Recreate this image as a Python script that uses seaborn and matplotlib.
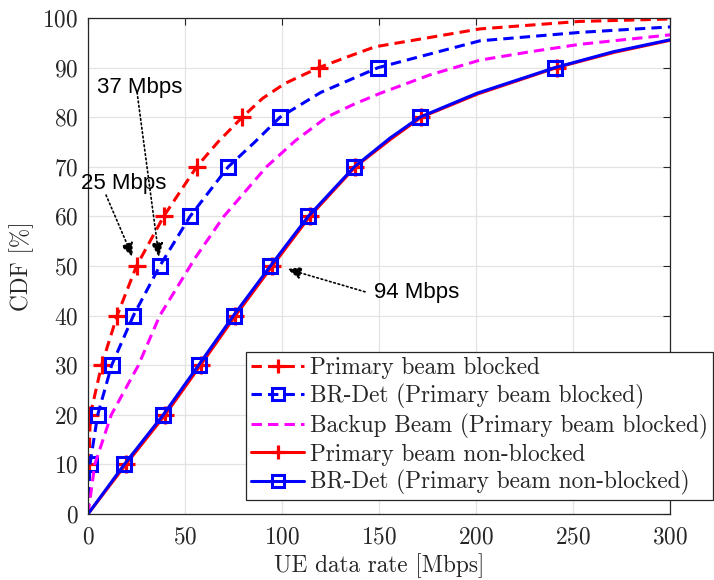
import numpy as np
import pandas as pd
import matplotlib
matplotlib.use("Agg")
import matplotlib.pyplot as plt
import seaborn as sns

# CDF levels [%] and UE data rates [Mbps] for each scenario
cdf_pb_blocked = [0, 10, 20, 30, 40, 50, 60, 70, 75, 80, 83.8, 86.8, 90, 92.2, 94.2, 97.8, 99.3, 99.8]
rate_pb_blocked = [0, 0.5, 1.2, 7, 15, 25, 39, 56, 67, 79.5, 90, 101.5, 119, 134, 148, 202, 253, 300]

cdf_brdet_blocked = [0, 10, 20, 30, 40, 50, 60, 70, 75, 80, 85, 90, 95.4, 97.1, 98.2]
rate_brdet_blocked = [0, 1, 5, 12.2, 23.4, 37, 52.6, 72.3, 86, 99, 120, 149.6, 202, 253.6, 300]

cdf_backup = [0, 10, 20, 30, 40, 51.6, 60, 70, 75.3, 80, 82.6, 84.8, 88.5, 91.5, 93.2, 94.7, 96.6]
rate_backup = [0, 3.5, 12, 26, 37, 55.2, 70, 92, 107, 123, 137, 150.5, 176, 202, 228, 253.6, 300]

cdf_pb_nonblocked = [0, 10, 20, 30, 40, 50, 60, 70, 75.7, 80, 84.7, 90, 93.1, 95.5]
rate_pb_nonblocked = [0, 19.5, 39.8, 58, 76, 95, 114.3, 137.8, 156.5, 171.8, 201, 241.5, 271.5, 300]

cdf_brdet_nonblocked = [0, 10, 20, 30, 40, 50, 60, 70, 75.8, 80, 84.8, 90, 93.2, 95.6]
rate_brdet_nonblocked = [0, 18.7, 38.8, 57, 75, 94, 113.5, 137.3, 155.7, 171, 200.3, 240.7, 270.8, 300]

labels = [
    "Primary beam blocked",
    "BR-Det (Primary beam blocked)",
    "Backup Beam (Primary beam blocked)",
    "Primary beam non-blocked",
    "BR-Det (Primary beam non-blocked)",
]
x_ticks = [0, 50, 100, 150, 200, 250, 300]
y_ticks = [0, 10, 20, 30, 40, 50, 60, 70, 80, 90, 100]

DASH = (0, (3.4, 2.0))
series = [
    (rate_pb_blocked, cdf_pb_blocked, "#ff0000", DASH, "+"),
    (rate_brdet_blocked, cdf_brdet_blocked, "#0000ff", DASH, "s"),
    (rate_backup, cdf_backup, "#ff00ff", DASH, None),
    (rate_pb_nonblocked, cdf_pb_nonblocked, "#ff0000", "-", "+"),
    (rate_brdet_nonblocked, cdf_brdet_nonblocked, "#0000ff", "-", "s"),
]

sns.set_theme(style="whitegrid")
plt.rcParams["font.family"] = ["cmr10", "DejaVu Serif"]
plt.rcParams["axes.formatter.use_mathtext"] = True
plt.rcParams["mathtext.fontset"] = "cm"

fig = plt.figure(figsize=(7.14, 5.80), dpi=100)
ax = fig.add_axes([88 / 714, 66 / 580, (670 - 88) / 714, (514 - 18) / 580])

for (rate, cdf, color, ls, marker), label in zip(series, labels):
    df = pd.DataFrame({"rate": rate, "cdf": cdf})
    marks = [i for i, c in enumerate(cdf) if c in (10, 20, 30, 40, 50, 60, 70, 80, 90)]
    kw = dict(color=color, linestyle=ls, linewidth=2.2, label=label)
    if marker == "+":
        kw.update(marker="+", markersize=13, markeredgewidth=2.3,
                  markeredgecolor=color, markevery=marks)
    elif marker == "s":
        kw.update(marker="s", markersize=10, markeredgewidth=2.2,
                  markerfacecolor="none", markeredgecolor=color, markevery=marks)
    sns.lineplot(data=df, x="rate", y="cdf", ax=ax, sort=False, estimator=None, **kw)

ax.set_xlim(0, 300)
ax.set_ylim(0, 100)
ax.set_xticks(x_ticks)
ax.set_yticks(y_ticks)
ax.set_xlabel("UE data rate [Mbps]", fontsize=16.8, labelpad=3)
ax.set_ylabel("CDF [%]", fontsize=16.8, labelpad=6)
ax.tick_params(axis="both", which="both", direction="in", length=5, width=0.8,
               labelsize=16.8, top=True, right=True, colors="#262626",
               labelcolor="#262626")
ax.tick_params(axis="x", pad=9)
ax.tick_params(axis="y", pad=7)
ax.grid(True, color="#e3e3e3", linewidth=0.9)
for sp in ax.spines.values():
    sp.set_color("#262626")
    sp.set_linewidth(0.9)
ax.set_facecolor("white")

# Callouts for the median data rates
arrow = dict(arrowstyle="-|>,head_length=0.7,head_width=0.3", linestyle=":",
             color="black", lw=1.2, shrinkA=0, shrinkB=0)
ann_font = dict(family=["Liberation Sans", "DejaVu Sans"], fontsize=16, color="black")
ax.annotate("", xy=(36.6, 51.8), xytext=(25.3, 85.0), arrowprops=arrow)
ax.annotate("", xy=(23.0, 51.8), xytext=(9.3, 64.3), arrowprops=arrow)
ax.annotate("", xy=(102.6, 49.4), xytext=(142.8, 44.8), arrowprops=arrow)
ax.text(26.8, 85.9, "37 Mbps", ha="center", va="center", clip_on=False, **ann_font)
ax.text(18.6, 66.7, "25 Mbps", ha="center", va="center", clip_on=False, **ann_font)
ax.text(169.6, 44.6, "94 Mbps", ha="center", va="center", clip_on=False, **ann_font)

leg = ax.legend(loc="lower right", bbox_to_anchor=(713 / 714, 80 / 580),
                bbox_transform=fig.transFigure, fontsize=16.8, frameon=True,
                fancybox=False, edgecolor="#262626", framealpha=1,
                handlelength=2.3, handletextpad=0.25, labelspacing=0.2,
                borderpad=0.2, borderaxespad=0)
leg.get_frame().set_linewidth(0.9)
for h in leg.get_lines():
    h.set_markersize(h.get_markersize() * 0.8)

fig.savefig("out.png", dpi=100, facecolor="white")
